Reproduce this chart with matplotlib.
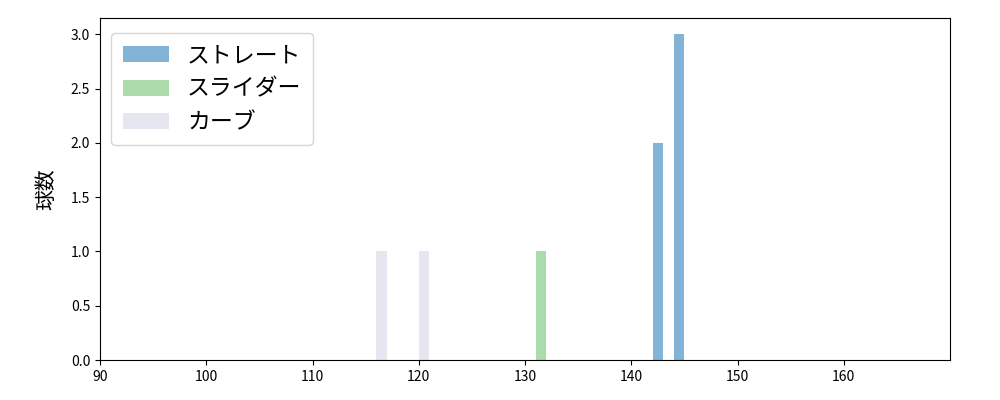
import matplotlib
matplotlib.use("Agg")
import matplotlib.pyplot as plt

plt.rcParams['font.family'] = ['Noto Sans CJK JP', 'DejaVu Sans']

series_names = ["ストレート", "スライダー", "カーブ"]
series_bins = [[142, 144], [131], [116, 120]]
series_counts = [[2, 3], [1], [1, 1]]
series_colors = ["#84b3d8", "#abdbab", "#e6e6f1"]

fig, ax = plt.subplots(figsize=(10, 4), dpi=100)
fig.subplots_adjust(left=0.1, right=0.95, top=0.955, bottom=0.1)

for name, bins, counts, color in zip(series_names, series_bins, series_counts, series_colors):
    ax.bar(bins, counts, width=1.0, align='edge', color=color, label=name)

ax.set_xlim(90, 170)
ax.set_xticks(range(90, 170, 10))
ax.set_ylabel("球数", fontsize=15, labelpad=10)
ax.tick_params(labelsize=10)
ax.legend(loc='upper left', fontsize=16.5, handlelength=2.0, borderpad=0.5, labelspacing=0.45,
          bbox_to_anchor=(0.0, 0.99))

fig.savefig("out.png")
